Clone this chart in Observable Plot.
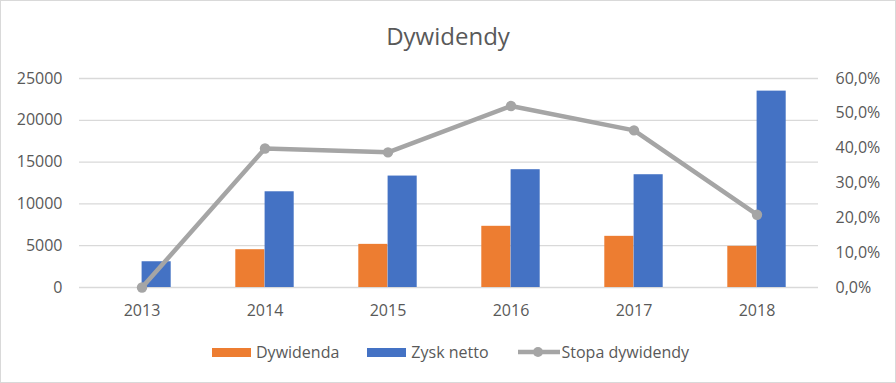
<!DOCTYPE html>
<html><head><meta charset="utf-8">
<script src="https://cdn.jsdelivr.net/npm/d3@7"></script>
<script src="https://cdn.jsdelivr.net/npm/@observablehq/plot@0.6"></script>
<style>
body{margin:0;background:#fff;font-family:"Open Sans",sans-serif;}
#wrap{position:relative;width:896px;height:383px;overflow:hidden;background:#fff}
#title{position:absolute;left:0;top:0;width:896px;text-align:center;font-size:24px;color:#595959;line-height:1;padding-top:24px}
#chart{position:absolute;left:0;top:62px}
#legend{position:absolute;left:212px;top:342px;display:flex;justify-content:flex-start;align-items:center;font-size:16px;color:#595959;line-height:20px}
#legend .sw{display:inline-block;width:39px;height:9px;margin-right:5px}
#legend .item{display:flex;align-items:center;margin-right:28px}
#border{position:absolute;left:0;top:0;right:0;bottom:0;border:1.5px solid #d9d9d9;pointer-events:none}
</style></head>
<body>
<div id="wrap">
  <div id="title">Dywidendy</div>
  <div id="chart"></div>
  <div id="legend"></div>
  <div id="border"></div>
</div>
<script>
const years = ["2013", "2014", "2015", "2016", "2017", "2018"];
const dywidenda = [0, 4520, 5160, 7320, 6120, 4920];
const zyskNetto = [3080, 11450, 13330, 14090, 13490, 23490];
const stopaDywidendy = [0, 39.9, 38.8, 52.1, 45.1, 20.9]; // percent
const leftTicks = [0, 5000, 10000, 15000, 20000, 25000];
const rightTicks = [0, 10, 20, 30, 40, 50, 60]; // percent
const seriesNames = ["Dywidenda", "Zysk netto", "Stopa dywidendy"];
const colors = ["#ED7D31", "#4472C4", "#A5A5A5"];

const yMax = 25000, pMax = 60;
const toY = p => p / pMax * yMax;

const rows = years.map((year, i) => ({year, dyw: dywidenda[i], zysk: zyskNetto[i], stopa: stopaDywidendy[i]}));

const plot = Plot.plot({
  width: 896,
  height: 262,
  marginLeft: 79,
  marginRight: 78,
  marginTop: 16,
  marginBottom: 37,
  style: {fontFamily: "'Open Sans', sans-serif", fontSize: "16px", color: "#595959", background: "transparent"},
  x: {type: "band", domain: years, padding: 0},
  y: {domain: [0, yMax]},
  marks: [
    Plot.gridY(leftTicks, {stroke: "#d9d9d9", strokeOpacity: 1, strokeWidth: 1.3}),
    Plot.barY(rows, {x: "year", y: "dyw", fill: colors[0], insetLeft: 32.3, insetRight: 61.6}),
    Plot.barY(rows, {x: "year", y: "zysk", fill: colors[1], insetLeft: 61.6, insetRight: 32.3}),
    Plot.lineY(rows, {x: "year", y: d => toY(d.stopa), stroke: colors[2], strokeWidth: 4.5}),
    Plot.dot(rows, {x: "year", y: d => toY(d.stopa), r: 5.2, fill: colors[2], stroke: "none"}),
    Plot.axisX({tickSize: 0, tickPadding: 17, label: null}),
    Plot.axisY(leftTicks, {tickSize: 0, tickPadding: 17, label: null, tickFormat: d => String(d)}),
    Plot.axisY(rightTicks.map(toY), {anchor: "right", tickSize: 0, tickPadding: 17, label: null,
      tickFormat: d => (d / yMax * pMax).toFixed(1).replace(".", ",") + "%"})
  ]
});
document.getElementById("chart").appendChild(plot);

const legend = document.getElementById("legend");
seriesNames.forEach((name, i) => {
  const item = document.createElement("div");
  item.className = "item";
  if (i < 2) {
    item.innerHTML = `<span class="sw" style="background:${colors[i]}"></span><span>${name}</span>`;
  } else {
    item.innerHTML = `<svg width="44" height="12" style="margin-right:1px"><line x1="1" x2="43" y1="6" y2="6" stroke="${colors[i]}" stroke-width="4.5"/><circle cx="21" cy="6" r="5" fill="${colors[i]}"/></svg><span>${name}</span>`;
  }
  legend.appendChild(item);
});
</script>
</body></html>
